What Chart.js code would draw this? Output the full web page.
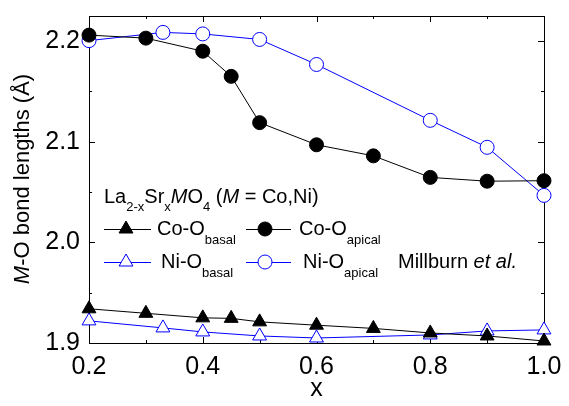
<!DOCTYPE html>
<html>
<head>
<meta charset="utf-8">
<script src="https://cdn.jsdelivr.net/npm/chart.js@4.4.1/dist/chart.umd.min.js"></script>
<style>
html,body{margin:0;padding:0;background:#fff;}
#wrap{width:569px;height:406px;position:relative;}
</style>
</head>
<body>
<div id="wrap"><canvas id="c" width="569" height="406"></canvas></div>
<script>
// ---- data ----
const xCo = [0.2, 0.3, 0.4, 0.45, 0.5, 0.6, 0.7, 0.8, 0.9, 1.0];
const coBasal = [1.934, 1.9295, 1.925, 1.9245, 1.921, 1.9177, 1.9145, 1.910, 1.907, 1.902];
const coApical = [2.206, 2.203, 2.190, 2.165, 2.119, 2.097, 2.086, 2.0646, 2.0608, 2.0613];
const xNi = [0.2, 0.33, 0.4, 0.5, 0.6, 0.8, 0.9, 1.0];
const niBasal = [1.922, 1.915, 1.911, 1.907, 1.905, 1.908, 1.912, 1.913];
const niApical = [2.2005, 2.2087, 2.2072, 2.2017, 2.1768, 2.1213, 2.0945, 2.0467];
const xMajorTicks = [0.2, 0.4, 0.6, 0.8, 1.0];
const xMinorTicks = [0.3, 0.5, 0.7, 0.9];
const yMajorTicks = [1.9, 2.0, 2.1, 2.2];
const yMinorTicks = [1.95, 2.05, 2.15];

const FONT = '"Liberation Sans", Arial, sans-serif';
const BLUE = '#0000ff';

function pts(xs, ys) { return xs.map((x, i) => ({x: x, y: ys[i]})); }

function drawRich(ctx, x, y, parts, size, subSize, subOff) {
  ctx.textBaseline = 'middle';
  ctx.textAlign = 'left';
  ctx.fillStyle = '#000';
  let cx = x;
  for (const p of parts) {
    const fs = p.sub ? subSize : size;
    ctx.font = (p.italic ? 'italic ' : '') + fs + 'px ' + FONT;
    ctx.fillText(p.t, cx, p.sub ? y + subOff : y);
    cx += ctx.measureText(p.t).width;
  }
  return cx;
}

function triangle(ctx, x, y, r, fill, stroke) {
  ctx.beginPath();
  for (let k = 0; k < 3; k++) {
    const a = -Math.PI / 2 + k * 2 * Math.PI / 3;
    const px = x + r * Math.cos(a), py = y + r * Math.sin(a);
    if (k === 0) ctx.moveTo(px, py); else ctx.lineTo(px, py);
  }
  ctx.closePath();
  ctx.fillStyle = fill; ctx.fill();
  ctx.lineWidth = 1; ctx.strokeStyle = stroke; ctx.stroke();
}
function circle(ctx, x, y, r, fill, stroke) {
  ctx.beginPath();
  ctx.arc(x, y, r, 0, Math.PI * 2);
  ctx.fillStyle = fill; ctx.fill();
  ctx.lineWidth = 1; ctx.strokeStyle = stroke; ctx.stroke();
}

const framePlugin = {
  id: 'frame',
  beforeDatasetsDraw(chart) {
    const ctx = chart.ctx, a = chart.chartArea;
    const xs = chart.scales.x, ys = chart.scales.y;
    ctx.save();
    ctx.strokeStyle = '#000';
    ctx.lineWidth = 1;
    ctx.strokeRect(Math.round(a.left) + 0.5, Math.round(a.top) + 0.5, Math.round(a.right - a.left), Math.round(a.bottom - a.top));
    ctx.beginPath();
    const tick = (v, len, horiz) => {
      if (horiz) {
        const px = Math.round(xs.getPixelForValue(v)) + 0.5;
        ctx.moveTo(px, a.bottom); ctx.lineTo(px, a.bottom - len);
        ctx.moveTo(px, a.top); ctx.lineTo(px, a.top + len);
      } else {
        const py = Math.round(ys.getPixelForValue(v)) + 0.5;
        ctx.moveTo(a.left, py); ctx.lineTo(a.left + len, py);
        ctx.moveTo(a.right, py); ctx.lineTo(a.right - len, py);
      }
    };
    xMajorTicks.forEach(v => tick(v, 6, true));
    xMinorTicks.forEach(v => tick(v, 3, true));
    yMajorTicks.forEach(v => tick(v, 6, false));
    yMinorTicks.forEach(v => tick(v, 3, false));
    ctx.stroke();
    ctx.restore();
  },
  afterDraw(chart) {
    const ctx = chart.ctx;
    ctx.save();
    // y axis title
    ctx.save();
    ctx.translate(23, 179);
    ctx.rotate(-Math.PI / 2);
    ctx.font = 'italic 22px ' + FONT;
    const w1 = ctx.measureText('M').width;
    ctx.font = '22px ' + FONT;
    const w2 = ctx.measureText('-O bond lengths (Å)').width;
    drawRich(ctx, -(w1 + w2) / 2, 0, [{t: 'M', italic: true}, {t: '-O bond lengths (Å)'}], 22, 14, 8);
    ctx.restore();

    // legend title
    drawRich(ctx, 104, 197, [
      {t: 'La'}, {t: '2-x', sub: true}, {t: 'Sr'}, {t: 'x', sub: true},
      {t: 'M', italic: true}, {t: 'O'}, {t: '4', sub: true},
      {t: ' ('}, {t: 'M', italic: true}, {t: ' = Co,Ni)'}
    ], 20, 13, 10);

    const r1 = 229, r2 = 262;
    ctx.lineWidth = 1;
    ctx.strokeStyle = '#000';
    ctx.beginPath(); ctx.moveTo(104, r1 + 0.5); ctx.lineTo(151, r1 + 0.5); ctx.stroke();
    triangle(ctx, 126, r1, 8, '#000', '#000');
    drawRich(ctx, 157, r1, [{t: 'Co-O'}, {t: 'basal', sub: true}], 20, 13, 11);
    ctx.strokeStyle = '#000';
    ctx.beginPath(); ctx.moveTo(246, r1 + 0.5); ctx.lineTo(291, r1 + 0.5); ctx.stroke();
    circle(ctx, 265, r1, 7, '#000', '#000');
    drawRich(ctx, 299, r1, [{t: 'Co-O'}, {t: 'apical', sub: true}], 20, 13, 11);

    ctx.strokeStyle = BLUE;
    ctx.beginPath(); ctx.moveTo(104, r2 + 0.5); ctx.lineTo(151, r2 + 0.5); ctx.stroke();
    triangle(ctx, 126, r2, 8, '#fff', BLUE);
    drawRich(ctx, 161, r2, [{t: 'Ni-O'}, {t: 'basal', sub: true}], 20, 13, 11);
    ctx.strokeStyle = BLUE;
    ctx.beginPath(); ctx.moveTo(246, r2 + 0.5); ctx.lineTo(291, r2 + 0.5); ctx.stroke();
    circle(ctx, 265, r2, 7, '#fff', BLUE);
    drawRich(ctx, 303, r2, [{t: 'Ni-O'}, {t: 'apical', sub: true}], 20, 13, 11);
    drawRich(ctx, 398, r2, [{t: 'Millburn '}, {t: 'et al.', italic: true}], 20, 13, 11);
    ctx.restore();
  }
};

const ds = (label, data, color, style, fill, r, order) => ({
  label: label, data: data, showLine: true,
  borderColor: color, borderWidth: 1,
  pointStyle: style, pointRadius: r, pointHoverRadius: r,
  pointBackgroundColor: fill, pointBorderColor: color, pointBorderWidth: 1,
  clip: false, order: order, tension: 0
});

new Chart(document.getElementById('c'), {
  type: 'scatter',
  data: {
    datasets: [
      ds('Ni-O basal', pts(xNi, niBasal), BLUE, 'triangle', '#fff', 8, 4),
      ds('Ni-O apical', pts(xNi, niApical), BLUE, 'circle', '#fff', 7, 3),
      ds('Co-O basal', pts(xCo, coBasal), '#000', 'triangle', '#000', 8, 2),
      ds('Co-O apical', pts(xCo, coApical), '#000', 'circle', '#000', 7, 1)
    ]
  },
  options: {
    responsive: false,
    animation: false,
    devicePixelRatio: 1,
    layout: {padding: {left: 0, right: 25, top: 3, bottom: 0}},
    plugins: {legend: {display: false}, tooltip: {enabled: false}},
    scales: {
      x: {
        type: 'linear', min: 0.2, max: 1.0,
        grid: {display: false}, border: {display: false},
        afterBuildTicks: s => { s.ticks = xMajorTicks.map(v => ({value: v})); },
        ticks: {
          padding: 1, color: '#000', maxRotation: 0, autoSkip: false,
          font: {family: FONT, size: 25},
          callback: v => Number(v).toFixed(1)
        },
        title: {display: true, text: 'x', color: '#000', font: {family: FONT, size: 25}, padding: {top: 0, bottom: 2}},
        afterFit: s => { s.height = 63; }
      },
      y: {
        type: 'linear', min: 1.9, max: 2.225,
        grid: {display: false}, border: {display: false},
        afterBuildTicks: s => { s.ticks = yMajorTicks.map(v => ({value: v})); },
        ticks: {
          padding: 1, color: '#000', autoSkip: false,
          font: {family: FONT, size: 25},
          callback: v => Number(v).toFixed(1)
        },
        afterFit: s => { s.width = 89; }
      }
    }
  },
  plugins: [framePlugin]
});
</script>
</body>
</html>
